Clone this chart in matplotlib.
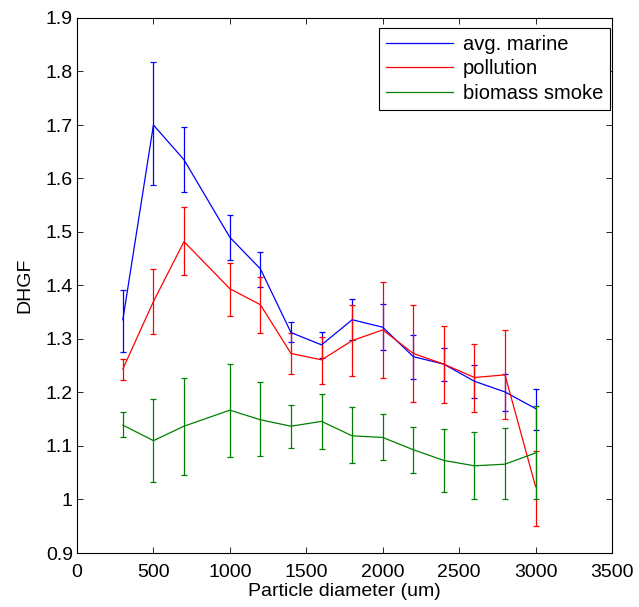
import matplotlib
matplotlib.use("Agg")
import matplotlib.pyplot as plt
from matplotlib.lines import Line2D

plt.rcParams['font.family'] = ['Liberation Sans', 'DejaVu Sans']

x = [300, 500, 700, 1000, 1200, 1400, 1600, 1800, 2000, 2200, 2400, 2600, 2800, 3000]

marine = [1.336, 1.700, 1.635, 1.490, 1.431, 1.312, 1.289, 1.336, 1.322, 1.267, 1.253, 1.221, 1.201, 1.170]
marine_hi = [1.392, 1.818, 1.696, 1.532, 1.463, 1.331, 1.314, 1.375, 1.365, 1.308, 1.284, 1.252, 1.234, 1.207]
marine_lo = [1.276, 1.587, 1.574, 1.448, 1.397, 1.295, 1.264, 1.299, 1.279, 1.226, 1.222, 1.190, 1.165, 1.130]

pollution = [1.244, 1.370, 1.482, 1.394, 1.364, 1.273, 1.261, 1.297, 1.317, 1.273, 1.253, 1.228, 1.233, 1.024]
pollution_hi = [1.263, 1.430, 1.547, 1.442, 1.416, 1.311, 1.304, 1.364, 1.407, 1.363, 1.325, 1.290, 1.316, 1.090]
pollution_lo = [1.224, 1.310, 1.419, 1.343, 1.312, 1.235, 1.216, 1.230, 1.227, 1.183, 1.181, 1.164, 1.150, 0.950]

biomass = [1.139, 1.110, 1.137, 1.167, 1.149, 1.137, 1.146, 1.119, 1.116, 1.093, 1.073, 1.063, 1.066, 1.087]
biomass_hi = [1.163, 1.188, 1.228, 1.254, 1.219, 1.176, 1.198, 1.172, 1.160, 1.135, 1.131, 1.126, 1.134, 1.174]
biomass_lo = [1.117, 1.032, 1.046, 1.079, 1.081, 1.097, 1.095, 1.068, 1.073, 1.050, 1.014, 1.000, 1.000, 1.000]

series = [
    ("avg. marine", marine, marine_lo, marine_hi, (0, 0, 1)),
    ("pollution", pollution, pollution_lo, pollution_hi, (1, 0, 0)),
    ("biomass smoke", biomass, biomass_lo, biomass_hi, (0, 0.5, 0)),
]

W, H = 639, 607
fig = plt.figure(figsize=(W / 100, H / 100), dpi=100)
ax = fig.add_axes([77 / W, (H - 553) / H, (612 - 77) / W, (553 - 18) / H])

for label, y, lo, hi, c in series:
    yerr = [[yy - l for yy, l in zip(y, lo)], [h - yy for yy, h in zip(y, hi)]]
    ax.errorbar(x, y, yerr=yerr, color=c, lw=0.9, elinewidth=0.9,
                capsize=2.5, capthick=0.9, label=label)

ax.set_xlim(0, 3500)
ax.set_ylim(0.9, 1.9)
ax.set_xticks(range(0, 3501, 500))
ax.set_yticks([0.9, 1.0, 1.1, 1.2, 1.3, 1.4, 1.5, 1.6, 1.7, 1.8, 1.9])
ax.set_yticklabels(['0.9', '1', '1.1', '1.2', '1.3', '1.4', '1.5', '1.6', '1.7', '1.8', '1.9'])
ax.tick_params(direction='in', top=True, right=True, labelsize=14, length=4.5,
               width=0.6, pad=3)
ax.tick_params(axis='x', pad=8)
for s in ax.spines.values():
    s.set_linewidth(0.8)
ax.set_xlabel('Particle diameter (um)', fontsize=14, labelpad=1)
ax.set_ylabel('DHGF', fontsize=14, labelpad=9)

labels = [s[0] for s in series]
hl = [Line2D([], [], color=s[4], lw=0.9) for s in series]
leg = ax.legend(hl, labels, loc='upper right', fontsize=14.5, handlelength=3.3,
                frameon=True, fancybox=False, edgecolor='black', framealpha=1,
                bbox_to_anchor=(610 / W, 1 - 28 / H), bbox_transform=fig.transFigure,
                borderaxespad=0, labelspacing=0.27, handletextpad=0.5,
                borderpad=0.35)
leg.get_frame().set_linewidth(0.8)

fig.savefig('out.png', dpi=100)
